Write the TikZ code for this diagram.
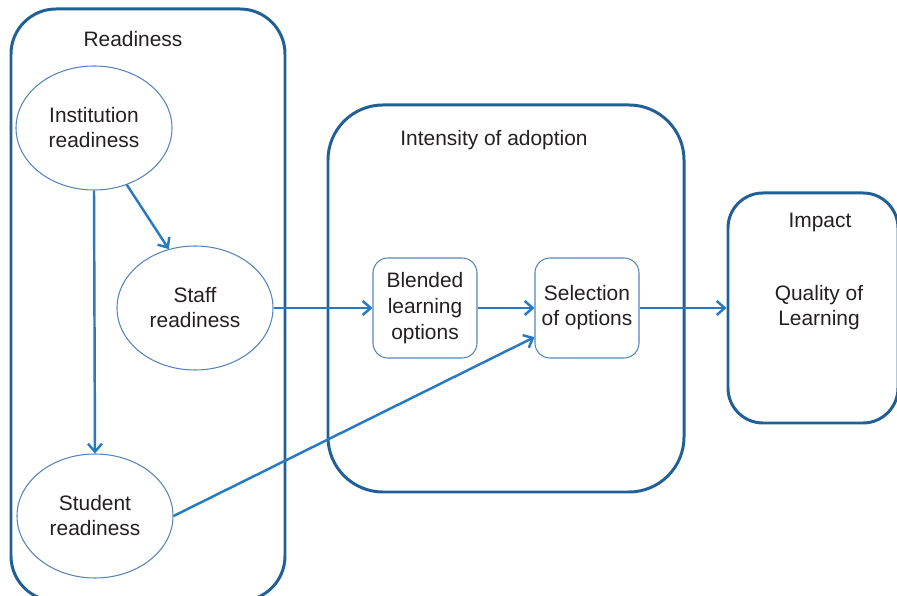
\documentclass[tikz,border=0pt]{standalone}
\usepackage{fontspec}
\setmainfont{Liberation Sans}
\usepackage{xcolor}
\usepackage{tikz}
\usetikzlibrary{shapes.geometric,arrows.meta}

\definecolor{boxblue}{RGB}{33,96,150}
\definecolor{linkblue}{RGB}{40,122,192}
\definecolor{rimblue}{RGB}{84,132,186}
\definecolor{inkgray}{RGB}{35,31,32}

\begin{document}
\begin{tikzpicture}[x=0.2mm,y=-0.2mm,
 every node/.style={font=\fontsize{11.9}{14.2}\selectfont,text=inkgray,align=center},
 stage/.style={draw=boxblue,line width=1.7pt,rounded corners=#1,inner sep=0pt},
 bubble/.style={ellipse,draw=rimblue,line width=0.6pt,minimum width=31.2mm,minimum height=24.8mm,inner sep=0pt},
 option/.style={draw=rimblue,line width=0.6pt,rounded corners=3mm,minimum width=20.8mm,minimum height=20mm,inner sep=0pt},
 link/.style={draw=linkblue,line width=1.4pt,-{Straight Barb[length=4.5pt,width=8pt]}}]

\useasboundingbox (0,0) rectangle (897,596);

% the three stages
\node[stage=9mm,minimum width=54.8mm,minimum height=118.4mm] (ready) at (148,305) {};
\node[stage=11mm,minimum width=71.2mm,minimum height=77.4mm] (adopt) at (506,298.5) {};
\node[stage=7mm,minimum width=34mm,minimum height=46mm] (impact) at (813,308) {};

\node (readyt) at (133,39) {Readiness};
\node (adoptt) at (494,140) {Intensity of adoption};
\node (impactt) at (820,222) {Impact};
\node (quality) at (819,308) {Quality of\\Learning};

% readiness
\node[bubble] (inst) at (94,128) {Institution\\readiness};
\node[bubble] (staff) at (195,308) {Staff\\readiness};
\node[bubble] (stud) at (95,516) {Student\\readiness};

% adoption
\node[option,font=\fontsize{11.9}{15}\selectfont] (blend) at (425,308) {Blended\\learning\\options};
\node[option] (sel) at (587,308) {Selection\\of options};

\draw[link] (inst.-60) -- (staff.114);
\draw[link] (inst.south) -- (stud.north);
\draw[link] (staff.east) -- (blend.west);
\draw[link] (blend.east) -- (sel.west);
\draw[link] (stud.east) -- (sel.209);
\draw[link] (sel.east) -- (impact.west);

\end{tikzpicture}
\end{document}
